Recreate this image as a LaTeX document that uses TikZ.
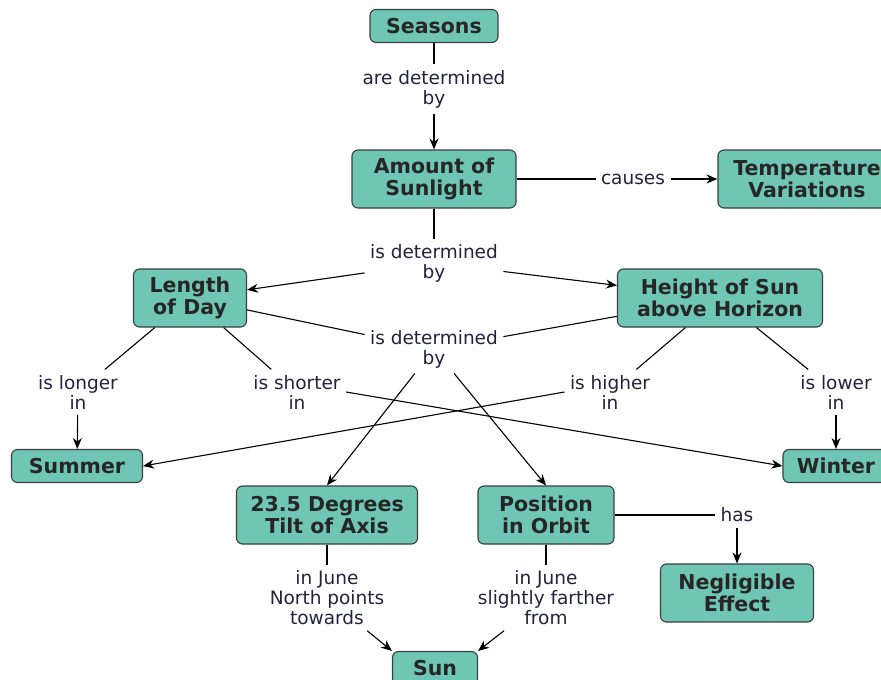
\documentclass[tikz,border=0pt]{standalone}
\usepackage{fontspec}
\setmainfont{DejaVu Sans}
\usetikzlibrary{arrows.meta}
\definecolor{conceptfill}{RGB}{112,198,180}
\definecolor{conceptdraw}{RGB}{58,62,60}
\definecolor{linktext}{RGB}{34,34,60}

\begin{document}
\begin{tikzpicture}[x=1pt,y=-1pt,->,>={Stealth[length=11pt,width=9pt]},
  line width=1.1pt,auto]
  \tikzstyle{concept}=[draw=conceptdraw,fill=conceptfill,rounded corners=6pt,
    line width=1.1pt,align=center,font=\bfseries\fontsize{20.5}{22}\selectfont,
    text=black!85,inner xsep=4pt,inner ysep=4pt,minimum height=33pt]
  \tikzstyle{tall}=[minimum height=58pt]
  \tikzstyle{link}=[align=center,font=\fontsize{18.5}{20}\selectfont,
    text=linktext,inner sep=5pt]

  \useasboundingbox (0,0) rectangle (881,680);
  \clip (0,0) rectangle (881,680);

  \node[concept,minimum width=128pt]      (seasons) at (434,26)  {Seasons};
  \node[link]                             (det1)    at (434,89)  {are determined\\by};
  \node[concept,tall,minimum width=164pt] (amount)  at (434,179) {Amount of\\Sunlight};
  \node[link]                             (causes)  at (633,179) {causes};
  \node[concept,tall,minimum width=178pt] (temp)    at (807,179) {Temperature\\Variations};
  \node[link]                             (det2)    at (434,263) {is determined\\by};
  \node[concept,tall,minimum width=113pt] (length)  at (190,298) {Length\\of Day};
  \node[concept,tall,minimum width=205pt] (height)  at (720,298) {Height of Sun\\above Horizon};
  \node[link]                             (det3)    at (434,349) {is determined\\by};
  \node[link]                             (longer)  at (78,392)  {is longer\\in};
  \node[link]                             (shorter) at (297,392) {is shorter\\in};
  \node[link]                             (higher)  at (610,392) {is higher\\in};
  \node[link]                             (lower)   at (836,392) {is lower\\in};
  \node[concept,minimum width=131pt]      (summer)  at (77,466)  {Summer};
  \node[concept,minimum width=106pt]      (winter)  at (836,466) {Winter};
  \node[concept,tall,minimum width=181pt] (tilt)    at (327,515) {23.5 Degrees\\Tilt of Axis};
  \node[concept,tall,minimum width=136pt] (orbit)   at (546,515) {Position\\in Orbit};
  \node[link]                             (has)     at (737,515) {has};
  \node[concept,tall,minimum width=153pt] (effect)  at (737,593) {Negligible\\Effect};
  \node[link]                             (towards) at (327,598) {in June\\North points\\towards};
  \node[link]                             (from)    at (546,598) {in June\\slightly farther\\from};
  \node[concept,minimum width=85pt]       (sun)     at (435,668) {Sun};

  \path (seasons) edge[-]         (det1)
        (det1)    edge            (amount)
        (amount)  edge[-]         (causes)
        (causes)  edge            (temp)
        (amount)  edge[-]         (det2)
        (det2)    edge            (length)
        (det2)    edge            (height)
        (length)  edge[-]         (det3)
        (height)  edge[-]         (det3)
        (det3)    edge            (tilt.north)
        (det3)    edge            (orbit.north)
        (length)  edge[-]         (longer)
        (length)  edge[-]         (shorter)
        (height)  edge[-]         (higher)
        (height)  edge[-]         (lower)
        (longer)  edge            (summer)
        (lower)   edge            (winter)
        (shorter.east) edge       (winter.west)
        (higher.west)  edge       (summer.east)
        (orbit)   edge[-]         (has)
        (has)     edge            (effect)
        (tilt)    edge[-]         (towards)
        (orbit)   edge[-]         (from)
        (towards) edge            (sun.north west)
        (from)    edge            (sun.north east)
        ;
\end{tikzpicture}
\end{document}
